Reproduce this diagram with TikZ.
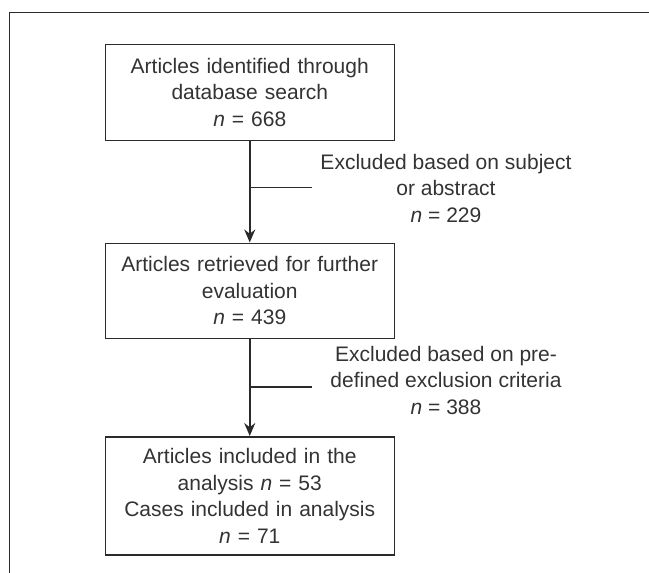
\documentclass[tikz,border=0pt]{standalone}
\usepackage{fontspec}
\setmainfont{Liberation Sans}
\usetikzlibrary{arrows.meta}
\definecolor{ink}{HTML}{2A2A2A}
\definecolor{txt}{HTML}{333333}
\tikzset{
  px/.style={x=1pt,y=-1pt},
  box/.style={draw=ink, line width=1.5pt, minimum width=289pt, text width=285pt, align=center, inner sep=0pt, text=txt, font=\fontsize{21}{26.5}\selectfont},
  lab/.style={align=center, text=txt, font=\fontsize{21}{26.5}\selectfont, inner sep=0pt},
  conn/.style={draw=ink, line width=1.5pt},
  arr/.style={conn, -{Stealth[length=13pt,width=11pt]}}
}
\begin{document}
\begin{tikzpicture}[px]
\useasboundingbox (0,0) rectangle (649,573);
\draw[conn] (9.5,573) -- (9.5,12.5) -- (649,12.5);
\node[box, minimum height=96pt, anchor=north west] (b1) at (104.5,43.5) {Articles identified through\\database search\\\textit{n} = 668};
\node[box, minimum height=95pt, anchor=north west] (b2) at (104.5,242.5) {Articles retrieved for further\\evaluation\\\textit{n} = 439};
\node[box, minimum height=118pt, anchor=north west] (b3) at (104.5,436) {Articles included in the\\analysis \textit{n} = 53\\Cases included in analysis\\\textit{n} = 71};
\coordinate (j1) at (b1.south |- 0,187.5);
\coordinate (e1) at (312,187.5);
\coordinate (j2) at (b2.south |- 0,387);
\coordinate (e2) at (312,387);
\draw[arr] (b1.south) -- (b2.north);
\draw[arr] (b2.south) -- (b3.north);
\draw[conn] (j1) -- (e1);
\draw[conn] (j2) -- (e2);
\node[lab] (l1) at (446,188) {Excluded based on subject\\or abstract\\\textit{n} = 229};
\node[lab] (l2) at (446,380) {Excluded based on pre-\\defined exclusion criteria\\\textit{n} = 388};
\end{tikzpicture}
\end{document}
